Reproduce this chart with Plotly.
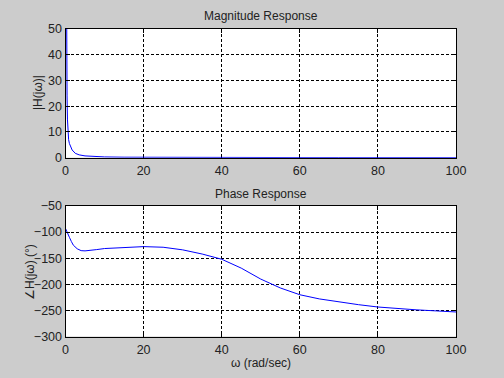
import plotly.graph_objects as go

# Magnitude response data
omega_mag = [0.1, 0.25, 0.3, 0.4, 0.5, 0.6, 0.8, 1.0, 1.3, 1.7, 2.5, 3.5, 5, 7, 10,
             15, 20, 30, 40, 50, 60, 70, 80, 90, 100]
magnitude = [120, 43, 36, 24, 15, 10, 7, 5.5, 4.3, 3.0, 1.7, 1.1, 0.7, 0.45, 0.3,
             0.2, 0.15, 0.1, 0.08, 0.06, 0.05, 0.04, 0.035, 0.03, 0.025]

# Phase response data (degrees)
omega_phase = [0, 0.5, 1, 1.5, 2, 3, 4, 5, 6, 8, 10, 15, 20, 25, 30, 35, 40, 45, 50,
               55, 60, 65, 70, 75, 80, 85, 90, 95, 100]
phase = [-93, -100, -110, -118, -125, -132, -135.5, -136, -135.5, -133.5, -131.5,
         -129, -127.8, -129, -134, -142, -152, -169, -190, -207, -220, -228, -234,
         -239, -243.5, -246.5, -249, -251, -253]

x_ticks = [0, 20, 40, 60, 80, 100]
mag_ticks = [0, 10, 20, 30, 40, 50]
phase_ticks = [-300, -250, -200, -150, -100, -50]

FONT = "Liberation Sans, Arial, sans-serif"
TXT = "#222222"
W, H = 504, 378
xdom = [65.5 / W, 456 / W]
ydom_top = [1 - 157.7 / H, 1 - 29 / H]
ydom_bot = [1 - 336.5 / H, 1 - 206 / H]

fig = go.Figure()
fig.add_trace(go.Scatter(x=omega_mag, y=magnitude, mode="lines",
                         line=dict(color="#0000ff", width=1), xaxis="x", yaxis="y",
                         showlegend=False))
fig.add_trace(go.Scatter(x=omega_phase, y=phase, mode="lines",
                         line=dict(color="#0000ff", width=1), xaxis="x2", yaxis="y2",
                         showlegend=False))

axis_common = dict(showline=True, linecolor="black", linewidth=1, mirror="ticks",
                   ticks="inside", ticklen=4, tickcolor="black", automargin=False,
                   showgrid=True, gridcolor="black", gridwidth=1, griddash="3px,2px",
                   zeroline=False, tickfont=dict(family=FONT, size=12.5, color=TXT))

fig.update_layout(
    width=W, height=H,
    margin=dict(l=0, r=0, t=0, b=0),
    paper_bgcolor="#cccccc", plot_bgcolor="white",
    xaxis=dict(domain=xdom, range=[0, 100], tickvals=x_ticks, anchor="y",
               layer="below traces", ticklabelstandoff=1, **axis_common),
    yaxis=dict(domain=ydom_top, range=[0, 50], tickvals=mag_ticks, anchor="x",
               ticklabelstandoff=0, **axis_common),
    xaxis2=dict(domain=xdom, range=[0, 100], tickvals=x_ticks, anchor="y2",
                ticklabelstandoff=1, **axis_common),
    yaxis2=dict(domain=ydom_bot, range=[-300, -50], tickvals=phase_ticks, anchor="x2",
                ticklabelstandoff=0, **axis_common),
    annotations=[
        dict(text="Magnitude Response", x=(xdom[0] + xdom[1]) / 2, y=1 - 16 / H,
             xref="paper", yref="paper", showarrow=False, xanchor="center", yanchor="middle",
             font=dict(family=FONT, size=12, color=TXT)),
        dict(text="Phase Response", x=(xdom[0] + xdom[1]) / 2, y=1 - 194 / H,
             xref="paper", yref="paper", showarrow=False, xanchor="center", yanchor="middle",
             font=dict(family=FONT, size=12, color=TXT)),
        dict(text="|H(jω)|", x=38 / W, y=1 - 93 / H, textangle=-90,
             xref="paper", yref="paper", showarrow=False, xanchor="center", yanchor="middle",
             font=dict(family=FONT, size=12, color=TXT)),
        dict(text="∠H(jω) (°)", x=30 / W, y=1 - 272 / H, textangle=-90,
             xref="paper", yref="paper", showarrow=False, xanchor="center", yanchor="middle",
             font=dict(family=FONT, size=12, color=TXT)),
        dict(text="ω (rad/sec)", x=(xdom[0] + xdom[1]) / 2, y=1 - 363 / H,
             xref="paper", yref="paper", showarrow=False, xanchor="center", yanchor="middle",
             font=dict(family=FONT, size=12, color=TXT)),
    ],
)

fig.write_html("out.html",
               config={"displayModeBar": False},
               post_script="document.body.style.margin='0';document.body.style.padding='0';")
